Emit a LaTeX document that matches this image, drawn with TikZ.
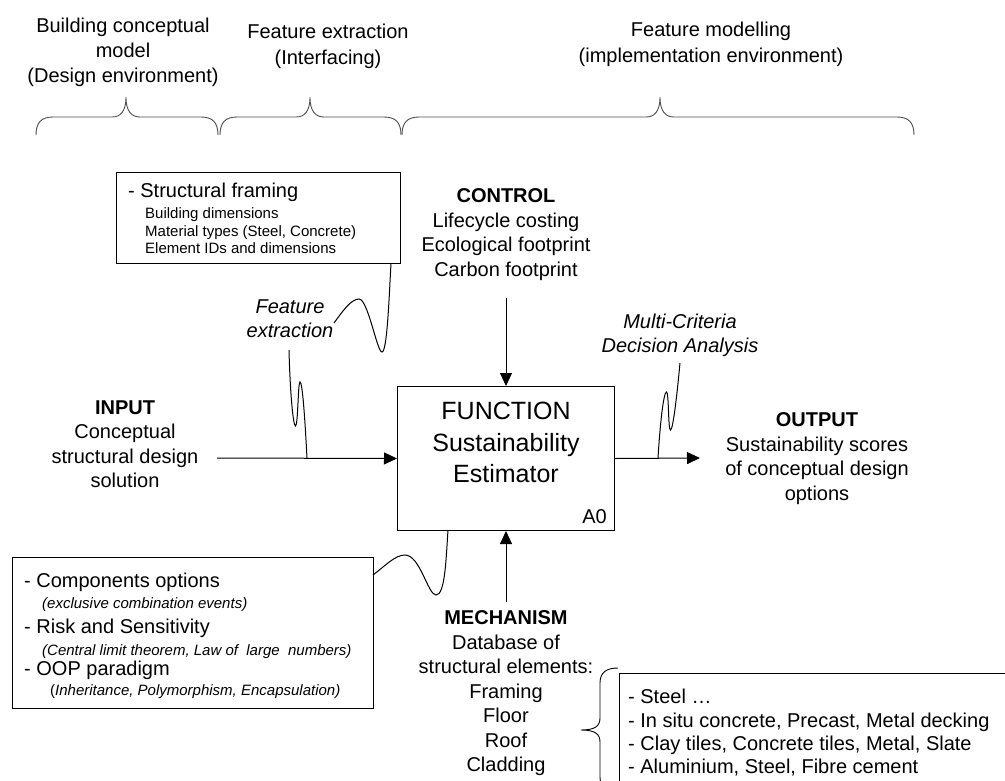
\documentclass[tikz,border=0pt]{standalone}
\usepackage{fontspec}
\setmainfont{Liberation Sans}
\usetikzlibrary{arrows.meta}

% horizontal curly brace: left end, tip, right end (ends at y=135, tip at y=97)
\newcommand{\drawtopbrace}[3]{%
  \draw[brc] (#1,135) .. controls (#1,123) and ({#1+5},117) .. ({#1+17},117)
    -- ({#2-14},117) .. controls ({#2-6},117) and (#2,112) .. (#2,97)
    .. controls (#2,112) and ({#2+6},117) .. ({#2+14},117)
    -- ({#3-17},117) .. controls ({#3-5},117) and (#3,123) .. (#3,135);}

\begin{document}
\begin{tikzpicture}[x=1pt,y=-1pt,
  body/.style={font=\fontsize{20}{24.5}\selectfont, inner sep=0pt, align=center, anchor=north},
  head/.style={font=\fontsize{20}{26}\selectfont, inner sep=0pt, align=center, anchor=north},
  bodyit/.style={body, font=\fontsize{20}{24.5}\selectfont\itshape},
  big/.style={body, font=\fontsize{25}{31.5}\selectfont},
  line/.style={font=\fontsize{20}{24}\selectfont, inner sep=0pt, anchor=base west},
  smallup/.style={font=\fontsize{15}{18}\selectfont, inner sep=0pt, anchor=base west},
  smallit/.style={smallup, font=\fontsize{15}{18}\selectfont\itshape},
  frame/.style={draw, line width=1pt, inner sep=0pt, anchor=north west},
  flow/.style={line width=1pt, -{Triangle[length=13pt,width=12pt]}},
  wiggle/.style={line width=1pt},
  brc/.style={line width=0.9pt, draw=black!70}
]
\useasboundingbox (0,0) rectangle (1005,780);
\clip (0,0) rectangle (1005,780);

% ---- phase labels and braces
\node[head, font=\fontsize{20}{25}\selectfont] (lblA) at (123,18) {Building conceptual\\model\\(Design environment)};
\node[head] (lblB) at (328,24) {Feature extraction\\(Interfacing)};
\node[head] (lblC) at (711,22) {Feature modelling\\(implementation environment)};
\drawtopbrace{36}{126}{218}
\drawtopbrace{220}{310}{401}
\drawtopbrace{402}{660}{914}

% ---- central function box (IDEF0 A0)
\node[frame, minimum width=217pt, minimum height=144pt] (fn) at (397,386) {};
\node[big] (fnText) at (506,402) {FUNCTION\\Sustainability\\Estimator};
\node[line, anchor=base east] (fnId) at (607,523) {A0};

% ---- control
\node[body] (ctl) at (506,188.5) {\textbf{CONTROL}\\Lifecycle costing\\Ecological footprint\\Carbon footprint};
\coordinate (ctlFoot) at (506,298);
\draw[flow] (ctlFoot) -- (fn.north);

% ---- input
\node[body] (inp) at (125,400.5) {\textbf{INPUT}\\Conceptual\\structural design\\solution};
\coordinate (inStart) at (217,458);
\draw[flow] (inStart) -- (fn.west);

% ---- output
\node[body] (out) at (817,412.5) {\textbf{OUTPUT}\\Sustainability scores\\of conceptual design\\options};
\coordinate (outEnd) at (700,458);
\draw[flow] (fn.east) -- (outEnd);

% ---- mechanism
\node[body] (mech) at (506,610.5) {\textbf{MECHANISM}\\Database of\\structural elements:\\Framing\\Floor\\Roof\\Cladding};
\coordinate (mechHead) at (506,602);
\draw[flow] (mechHead) -- (fn.south);

% ---- structural framing box
\node[frame, minimum width=284pt, minimum height=91pt] (sfbox) at (116,172) {};
\node[line] (sf0) at (128,197) {- Structural framing};
\node[smallup] (sf1) at (145,218) {Building dimensions};
\node[smallup] (sf2) at (145,236) {Material types (Steel, Concrete)};
\node[smallup] (sf3) at (145,253) {Element IDs and dimensions};

% ---- feature extraction callout
\node[bodyit] (fext) at (290,299.5) {Feature\\extraction};
\coordinate (fxA) at (391,263);
\coordinate (fxB) at (334,323);
\draw[wiggle] (fxA) .. controls (389,300) and (387,352) .. (382,352)
  .. controls (377,352) and (368,299) .. (359,299)
  .. controls (351,299) and (342,312) .. (fxB);
\coordinate (fxC) at (289,350);
\coordinate (fxD) at (307,458);
\draw[wiggle] (fxC) .. controls (290,390) and (293,426) .. (295.5,426)
  .. controls (298,426) and (298,382) .. (300,382)
  .. controls (302.5,382) and (305,420) .. (fxD);

% ---- MCDA callout
\node[bodyit] (mcda) at (680,313.5) {Multi-Criteria\\Decision Analysis};
\coordinate (mcA) at (680,363);
\coordinate (mcB) at (658,458);
\draw[wiggle] (mcA) .. controls (677,395) and (673,430) .. (670.5,430)
  .. controls (668,430) and (669,392) .. (666.5,392)
  .. controls (663.5,392) and (660,425) .. (mcB);

% ---- options box
\node[frame, minimum width=361pt, minimum height=151pt] (opbox) at (12,557) {};
\node[line] (op0) at (24,587) {- Components options};
\node[smallit] (op1) at (42,608) {(exclusive combination events)};
\node[line] (op2) at (24,633) {- Risk and Sensitivity};
\node[smallit] (op3) at (42,655) {(Central limit theorem, Law of~ large~ numbers)};
\node[line] (op4) at (24,675) {- OOP paradigm};
\node[smallup] (op5) at (50,695) {(\textit{Inheritance, Polymorphism, Encapsulation)}};
\coordinate (opA) at (373,575);
\coordinate (opB) at (448,530);
\draw[wiggle] (opA) .. controls (385,566) and (395,555) .. (405,555)
  .. controls (420,555) and (428,595) .. (436,595)
  .. controls (445,595) and (446,560) .. (opB);

% ---- materials box with brace
\draw[brc, draw=black] (618,668) .. controls (607,668) and (600,672) .. (600,683)
  -- (600,718) .. controls (600,726) and (595,730) .. (581,730)
  .. controls (595,730) and (600,734) .. (600,742)
  -- (600,777) .. controls (600,788) and (607,792) .. (618,792);
\node[frame, minimum width=420pt, minimum height=140pt] (mats) at (619,673) {};
\node[line] (m0) at (628,703) {- Steel …};
\node[line] (m1) at (628,727) {- In situ concrete, Precast, Metal decking};
\node[line] (m2) at (628,750) {- Clay tiles, Concrete tiles, Metal, Slate};
\node[line] (m3) at (628,773) {- Aluminium, Steel, Fibre cement};
\end{tikzpicture}
\end{document}
